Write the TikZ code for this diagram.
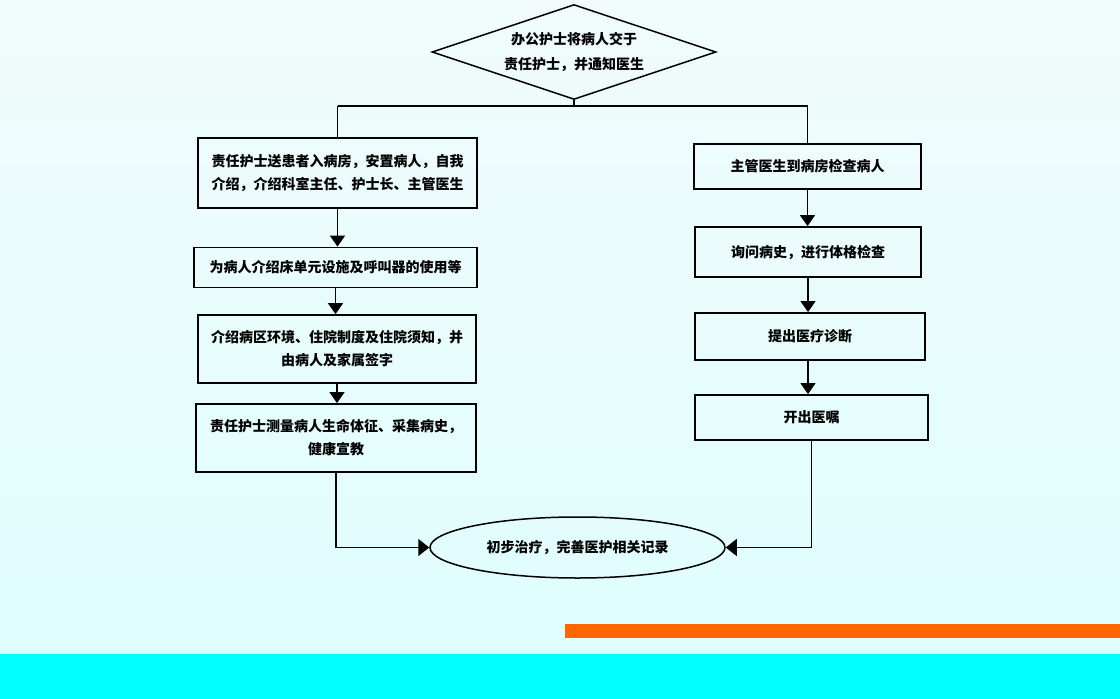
\documentclass[tikz,border=0pt]{standalone}
\usepackage{fontspec}
\setmainfont{Noto Sans CJK SC}
\usetikzlibrary{shapes.geometric,arrows.meta}
\definecolor{bgtop}{RGB}{241,251,251}
\definecolor{bgbot}{RGB}{222,254,254}
\definecolor{barcyan}{RGB}{0,255,255}
\definecolor{barorange}{RGB}{255,102,0}
\begin{document}
\begin{tikzpicture}[x=1pt,y=-1pt,
  txt/.style={font=\fontsize{14}{23}\selectfont\bfseries,align=center},
  box/.style={txt,draw=black,line width=1.8pt,inner sep=0pt,rectangle},
  con/.style={line width=1.5pt},
  arr/.style={con,-{Triangle[width=15pt,length=11pt]}},
  sidearr/.style={con,-{Triangle[width=17pt,length=11pt]}},
]
\useasboundingbox (0,0) rectangle (1120,699);
\shade[top color=bgtop,bottom color=bgbot] (0,0) rectangle (1120,699);
\fill[barcyan] (0,654) rectangle (1120,699);
\fill[barorange] (565,624) rectangle (1120,638);

\node[txt,draw=black,line width=1.5pt,diamond,shape aspect=3,inner sep=0pt,minimum width=284pt,minimum height=95pt,font=\fontsize{14}{25}\selectfont\bfseries] (D) at (574,52) {办公护士将病人交于\\责任护士，并通知医生};

\node[box,minimum width=279pt,minimum height=70pt] (L1) at (337.5,173) {责任护士送患者入病房，安置病人，自我\\介绍，介绍科室主任、护士长、主管医生};
\node[box,minimum width=283pt,minimum height=40pt] (L2) at (335.5,267.5) {为病人介绍床单元设施及呼叫器的使用等};
\node[box,minimum width=278pt,minimum height=68pt] (L3) at (337,349) {介绍病区环境、住院制度及住院须知，并\\由病人及家属签字};
\node[box,minimum width=280pt,minimum height=68pt] (L4) at (336,438) {责任护士测量病人生命体征、采集病史，\\健康宣教};

\node[box,minimum width=227pt,minimum height=45pt] (B1) at (807.5,166.5) {主管医生到病房检查病人};
\node[box,minimum width=226pt,minimum height=50pt] (B2) at (808,252) {询问病史，进行体格检查};
\node[box,minimum width=230pt,minimum height=47pt] (B3) at (810,336.5) {提出医疗诊断};
\node[box,minimum width=233pt,minimum height=45pt] (B4) at (811.5,417.5) {开出医嘱};

\node[txt,draw=black,line width=1.5pt,ellipse,inner sep=0pt,minimum width=295pt,minimum height=61pt] (E) at (577.5,547.5) {初步治疗，完善医护相关记录};

\coordinate (br) at (574,106);
\draw[con] (D.south) -- (br);
\draw[con] (br -| L1.north) -- (br -| B1.north);
\draw[con] (br -| L1.north) -- (L1.north);
\draw[con] (br -| B1.north) -- (B1.north);

\draw[arr] (L1.south) -- (L1.south |- L2.north);
\draw[arr] (L2.south) -- (L2.south |- L3.north);
\draw[arr] (L3.south) -- (L3.south |- L4.north);

\draw[arr] (B1.south) -- (B1.south |- B2.north);
\draw[arr] (B2.south) -- (B2.south |- B3.north);
\draw[arr] (B2.south |- B3.south) -- (B2.south |- B4.north);

\draw[sidearr] (L4.south) |- (E.west);
\draw[sidearr] (B4.south) |- (E.east);
\end{tikzpicture}
\end{document}
